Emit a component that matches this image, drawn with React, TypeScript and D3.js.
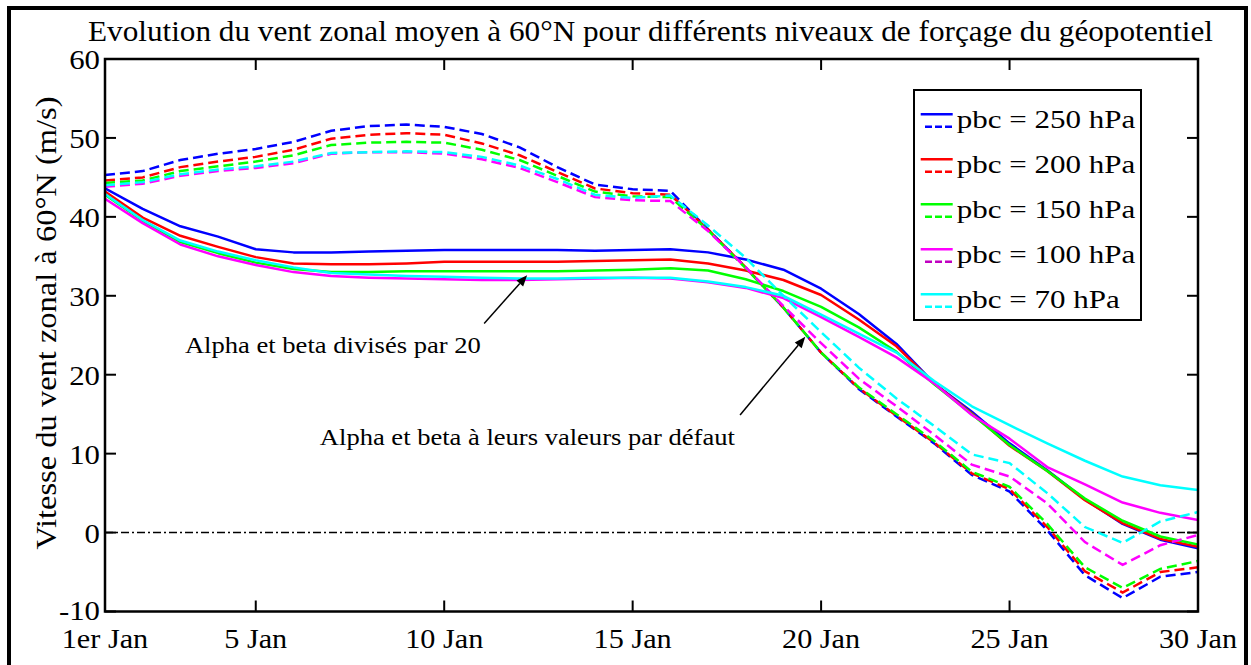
import { useEffect, useRef } from "react"
import * as d3 from "d3"

// days of January
const days = [1, 2, 3, 4, 5, 6, 7, 8, 9, 10, 11, 12, 13, 14, 15, 16, 17, 18, 19, 20, 21, 22, 23, 24, 25, 26, 27, 28, 29, 30]

// alpha and beta divided by 20 (solid)
const solid250 = [43.6, 41.0, 38.8, 37.5, 35.9, 35.5, 35.5, 35.6, 35.7, 35.8, 35.8, 35.8, 35.8, 35.7, 35.8, 35.9, 35.5, 34.6, 33.3, 30.9, 27.7, 23.9, 18.9, 15.3, 11.3, 7.9, 4.2, 1.1, -0.9, -2.0]
const solid200 = [43.2, 39.9, 37.6, 36.2, 34.9, 34.1, 34.0, 34.0, 34.1, 34.3, 34.3, 34.3, 34.3, 34.4, 34.5, 34.6, 34.1, 33.2, 32.0, 30.1, 27.0, 23.6, 18.9, 15.1, 11.0, 7.8, 4.1, 1.2, -0.8, -1.8]
const solid150 = [42.8, 39.5, 36.8, 35.4, 34.2, 33.4, 33.0, 33.0, 33.1, 33.1, 33.1, 33.1, 33.1, 33.2, 33.3, 33.5, 33.2, 32.1, 30.6, 28.6, 26.0, 22.9, 18.8, 15.0, 11.1, 7.8, 4.3, 1.5, -0.5, -1.5]
const solid100 = [42.3, 39.2, 36.5, 35.0, 33.9, 33.0, 32.5, 32.3, 32.2, 32.1, 32.0, 32.0, 32.1, 32.2, 32.3, 32.2, 31.7, 31.0, 29.7, 27.3, 24.8, 22.2, 18.9, 14.9, 11.9, 8.3, 6.1, 3.8, 2.5, 1.6]
const solid70 = [42.9, 39.6, 37.0, 35.6, 34.5, 33.6, 32.9, 32.7, 32.5, 32.4, 32.3, 32.2, 32.2, 32.3, 32.3, 32.3, 31.8, 31.1, 30.0, 27.6, 25.2, 22.8, 19.2, 16.0, 13.6, 11.3, 9.1, 7.1, 6.0, 5.4]

// alpha and beta at default values (dashed)
const dashed250 = [45.3, 45.8, 47.2, 48.0, 48.6, 49.5, 50.9, 51.5, 51.7, 51.4, 50.5, 48.8, 46.3, 44.1, 43.5, 43.3, 38.4, 33.6, 28.5, 22.8, 18.2, 14.7, 11.3, 7.3, 5.2, 0.3, -5.4, -8.3, -5.6, -5.0]
const dashed200 = [44.6, 45.0, 46.3, 47.0, 47.6, 48.5, 49.9, 50.4, 50.6, 50.4, 49.3, 47.8, 45.7, 43.6, 43.0, 42.8, 38.4, 33.6, 28.5, 22.8, 18.3, 14.8, 11.4, 7.5, 5.5, 0.7, -4.9, -7.6, -5.0, -4.4]
const dashed150 = [44.3, 44.6, 45.8, 46.4, 47.0, 47.8, 49.1, 49.4, 49.5, 49.4, 48.5, 47.2, 45.2, 43.2, 42.6, 42.5, 38.3, 33.5, 28.5, 22.8, 18.4, 15.0, 11.6, 7.7, 5.8, 1.1, -4.4, -7.0, -4.6, -3.6]
const dashed100 = [43.8, 44.2, 45.2, 45.8, 46.2, 46.8, 48.0, 48.2, 48.2, 48.0, 47.3, 46.2, 44.4, 42.5, 42.1, 42.0, 38.2, 33.6, 28.7, 24.0, 19.5, 16.0, 12.4, 8.6, 7.1, 3.7, -1.2, -4.1, -1.6, -0.3]
const dashed70 = [44.0, 44.4, 45.4, 46.0, 46.4, 47.0, 48.1, 48.2, 48.3, 48.2, 47.6, 46.5, 44.8, 42.8, 42.4, 42.7, 38.9, 34.8, 30.0, 25.4, 20.9, 17.0, 13.5, 9.9, 8.8, 5.0, 0.7, -1.3, 1.4, 2.6]

const seriesNames = ["pbc = 250 hPa", "pbc = 200 hPa", "pbc = 150 hPa", "pbc = 100 hPa", "pbc = 70 hPa"]
const colors = ["#0000ff", "#ff0000", "#00ff00", "#ff00ff", "#00ffff"]
const legendDashColors = ["#0000ff", "#ff0000", "#00ff00", "#c000c0", "#00ffff"]
const solids = [solid250, solid200, solid150, solid100, solid70]
const dashes = [dashed250, dashed200, dashed150, dashed100, dashed70]

const xTicks = [1, 5, 10, 15, 20, 25, 30]
const xTickLabels = ["1er Jan", "5 Jan", "10 Jan", "15 Jan", "20 Jan", "25 Jan", "30 Jan"]
const yTicks = [-10, 0, 10, 20, 30, 40, 50, 60]

// annotations: text anchor (day, value), arrow tail and tip (day, value)
const notes = [
    { text: "Alpha et beta divisés par 20", at: [3.12, 22.7], from: [11.06, 26.5], to: [12.2, 32.6], len: 296 },
    { text: "Alpha et beta à leurs valeurs par défaut", at: [6.7, 11.1], from: [17.85, 14.9], to: [19.58, 24.8], len: 415 },
]

const title = "Evolution du vent zonal moyen à 60°N pour différents niveaux de forçage du géopotentiel"
const yLabel = "Vitesse du vent zonal à 60°N (m/s)"

export default function App() {
    const ref = useRef<SVGSVGElement>(null)

    useEffect(() => {
        const W = 1251
        const H = 665
        const plot = { left: 105, right: 1198, top: 59, bottom: 611.5 }
        const font = "Liberation Serif"
        const tickLen = 11

        const x = d3.scaleLinear().domain([1, 30]).range([plot.left, plot.right])
        const y = d3.scaleLinear().domain([-10, 60]).range([plot.bottom, plot.top])

        const svg = d3.select(ref.current)
        svg.selectAll("*").remove()
        svg.attr("width", W).attr("height", H).attr("viewBox", `0 0 ${W} ${H}`)

        // the original figure is a little stretched sideways
        const stretch = (t: any, k: number) => {
            const w = (t.node() as SVGTextElement).getComputedTextLength()
            t.attr("textLength", w * k).attr("lengthAdjust", "spacingAndGlyphs")
        }

        svg.append("rect").attr("width", W).attr("height", H).attr("fill", "white")

        // outer frame
        svg.append("rect")
            .attr("x", 9).attr("y", 8).attr("width", 1237).attr("height", 680)
            .attr("fill", "none").attr("stroke", "black").attr("stroke-width", 4)

        // title
        svg.append("text")
            .attr("x", 650.5).attr("y", 41)
            .attr("text-anchor", "middle")
            .attr("font-family", font).attr("font-size", 30)
            .attr("textLength", 1125).attr("lengthAdjust", "spacingAndGlyphs")
            .text(title)

        // y label
        svg.append("text")
            .attr("transform", `translate(56, ${323}) rotate(-90)`)
            .attr("text-anchor", "middle")
            .attr("font-family", font).attr("font-size", 29)
            .attr("textLength", 453).attr("lengthAdjust", "spacingAndGlyphs")
            .text(yLabel)

        const clipId = "plotclip"
        svg.append("clipPath").attr("id", clipId)
            .append("rect")
            .attr("x", plot.left).attr("y", plot.top)
            .attr("width", plot.right - plot.left).attr("height", plot.bottom - plot.top)

        const g = svg.append("g").attr("clip-path", `url(#${clipId})`)

        // zero line
        g.append("line")
            .attr("x1", x(1)).attr("x2", x(30)).attr("y1", y(0)).attr("y2", y(0))
            .attr("stroke", "black").attr("stroke-width", 1.5)
            .attr("stroke-dasharray", "8,3,2,3")

        const line = d3.line<number>()
            .x((_, i) => x(days[i]))
            .y(d => y(d))

        solids.forEach((s, k) => {
            g.append("path")
                .attr("d", line(s))
                .attr("fill", "none").attr("stroke", colors[k]).attr("stroke-width", 2.5)
                .attr("stroke-linejoin", "round")
            g.append("path")
                .attr("d", line(dashes[k]))
                .attr("fill", "none").attr("stroke", colors[k]).attr("stroke-width", 2.5)
                .attr("stroke-dasharray", "10,5")
        })

        // axes box
        svg.append("rect")
            .attr("x", plot.left).attr("y", plot.top)
            .attr("width", plot.right - plot.left).attr("height", plot.bottom - plot.top)
            .attr("fill", "none").attr("stroke", "black").attr("stroke-width", 2.5)

        // ticks (inward, all four sides)
        const ticks = svg.append("g").attr("stroke", "black").attr("stroke-width", 2)
        xTicks.forEach(t => {
            ticks.append("line").attr("x1", x(t)).attr("x2", x(t)).attr("y1", plot.bottom).attr("y2", plot.bottom - tickLen)
            ticks.append("line").attr("x1", x(t)).attr("x2", x(t)).attr("y1", plot.top).attr("y2", plot.top + tickLen)
        })
        yTicks.forEach(t => {
            ticks.append("line").attr("x1", plot.left).attr("x2", plot.left + tickLen).attr("y1", y(t)).attr("y2", y(t))
            ticks.append("line").attr("x1", plot.right).attr("x2", plot.right - tickLen).attr("y1", y(t)).attr("y2", y(t))
        })

        // tick labels
        xTicks.forEach((t, i) => {
            const lab = svg.append("text")
                .attr("x", x(t)).attr("y", 648)
                .attr("text-anchor", "middle")
                .attr("font-family", font).attr("font-size", 27)
                .text(xTickLabels[i])
            stretch(lab, 1.12)
        })
        yTicks.forEach(t => {
            const lab = svg.append("text")
                .attr("x", 100).attr("y", y(t) + (t === -10 ? 8 : 10))
                .attr("text-anchor", "end")
                .attr("font-family", font).attr("font-size", 28)
                .text(String(t))
            stretch(lab, 1.1)
        })

        // annotations with arrows
        notes.forEach(n => {
            svg.append("text")
                .attr("x", x(n.at[0])).attr("y", y(n.at[1]))
                .attr("font-family", font).attr("font-size", 24)
                .attr("textLength", n.len).attr("lengthAdjust", "spacingAndGlyphs")
                .text(n.text)
            const x1 = x(n.from[0]), y1 = y(n.from[1]), x2 = x(n.to[0]), y2 = y(n.to[1])
            const ang = Math.atan2(y2 - y1, x2 - x1)
            const hl = 11, hw = 4.5
            const bx = x2 - hl * Math.cos(ang), by = y2 - hl * Math.sin(ang)
            svg.append("line")
                .attr("x1", x1).attr("y1", y1).attr("x2", bx).attr("y2", by)
                .attr("stroke", "black").attr("stroke-width", 1.5)
            svg.append("path")
                .attr("d", `M${x2},${y2} L${bx - hw * Math.sin(ang)},${by + hw * Math.cos(ang)} L${bx + hw * Math.sin(ang)},${by - hw * Math.cos(ang)} Z`)
                .attr("fill", "black")
        })

        // legend
        const leg = svg.append("g")
        leg.append("rect")
            .attr("x", 914).attr("y", 90).attr("width", 227).attr("height", 230)
            .attr("fill", "white").attr("stroke", "black").attr("stroke-width", 2)
        seriesNames.forEach((name, k) => {
            const ly = 114.3 + k * 45
            leg.append("line")
                .attr("x1", 920.7).attr("x2", 952.7).attr("y1", ly).attr("y2", ly)
                .attr("stroke", colors[k]).attr("stroke-width", 2.5)
            leg.append("line")
                .attr("x1", 925).attr("x2", 952).attr("y1", ly + 12.4).attr("y2", ly + 12.4)
                .attr("stroke", legendDashColors[k]).attr("stroke-width", 2.5)
                .attr("stroke-dasharray", "7,3")
            const lab = leg.append("text")
                .attr("x", 956.7).attr("y", ly + 14)
                .attr("font-family", font).attr("font-size", 25)
                .text(name)
            stretch(lab, 1.24)
        })
    }, [])

    return (
        <svg ref={ref} style={{ position: "absolute", left: 0, top: 0, display: "block" }}></svg>
    )
}
